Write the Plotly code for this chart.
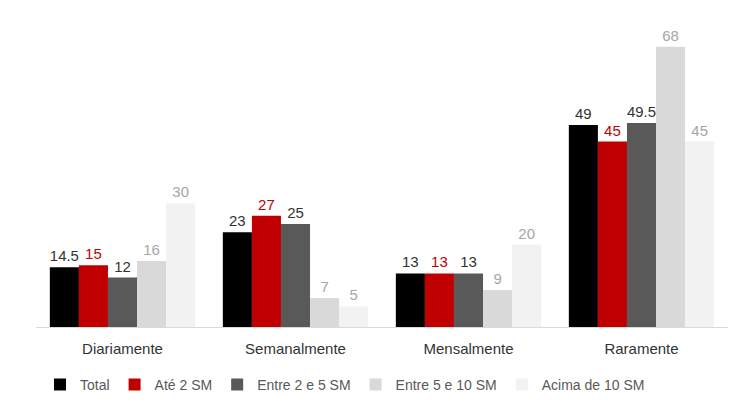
import plotly.graph_objects as go

categories = ["Diariamente", "Semanalmente", "Mensalmente", "Raramente"]
series_names = ["Total", "Até 2 SM", "Entre 2 e 5 SM", "Entre 5 e 10 SM", "Acima de 10 SM"]
total = [14.5, 23, 13, 49]
ate2 = [15, 27, 13, 45]
entre2e5 = [12, 25, 13, 49.5]
entre5e10 = [16, 7, 9, 68]
acima10 = [30, 5, 20, 45]

series_values = [total, ate2, entre2e5, entre5e10, acima10]
bar_colors = ["#000000", "#c00000", "#595959", "#d9d9d9", "#f2f2f2"]
label_colors = ["#333333", "#c00000", "#333333", "#a6a6a6", "#a6a6a6"]

FONT = "Liberation Sans, Arial, sans-serif"

fig = go.Figure()
for name, vals, col, lcol in zip(series_names, series_values, bar_colors, label_colors):
    fig.add_trace(go.Bar(
        x=categories, y=vals, name=name,
        marker=dict(color=col, line=dict(width=0)),
        text=[f"{v:g}" for v in vals],
        textposition="outside",
        textfont=dict(color=lcol, size=15, family=FONT),
        cliponaxis=False,
    ))

fig.update_layout(
    width=750, height=407,
    barmode="group", bargap=0.16, bargroupgap=0,
    plot_bgcolor="white", paper_bgcolor="white",
    margin=dict(l=36, r=22, t=20, b=80),
    font=dict(family=FONT, size=15, color="#333333"),
    xaxis=dict(showline=True, linecolor="#d9d9d9", linewidth=1, ticks="",
               ticklabelstandoff=8,
               tickfont=dict(size=15, color="#333333"), showgrid=False),
    yaxis=dict(range=[0, 74.5], visible=False, showgrid=False, zeroline=False),
    legend=dict(orientation="h", xref="container", yref="container",
                x=0.46, xanchor="center", y=0.015, yanchor="bottom",
                font=dict(size=14, color="#595959"), itemwidth=30,
                traceorder="normal"),
    showlegend=True,
)

fig.write_html("out.html")
